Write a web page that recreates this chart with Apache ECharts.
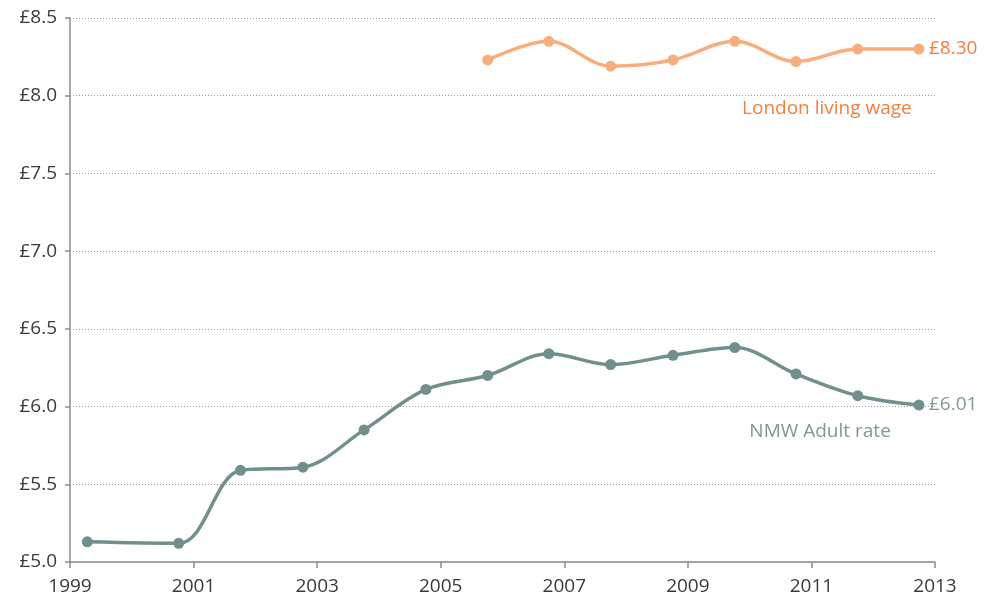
<!DOCTYPE html>
<html>
<head>
<meta charset="utf-8">
<script src="https://cdn.jsdelivr.net/npm/echarts@6/dist/echarts.min.js"></script>
<style>
  html, body { margin: 0; padding: 0; background: #fff; }
  #chart { width: 989px; height: 603px; }
</style>
</head>
<body>
<div id="chart"></div>
<script>
const nmwYears = [1999.28, 2000.76, 2001.76, 2002.77, 2003.76, 2004.76, 2005.76, 2006.75, 2007.75, 2008.76, 2009.76, 2010.75, 2011.75, 2012.74]
const nmwValues = [5.13, 5.12, 5.59, 5.61, 5.85, 6.11, 6.20, 6.34, 6.27, 6.33, 6.38, 6.21, 6.07, 6.01]

const llwYears = [2005.76, 2006.75, 2007.75, 2008.76, 2009.76, 2010.75, 2011.75, 2012.74]
const llwValues = [8.23, 8.35, 8.19, 8.23, 8.35, 8.22, 8.30, 8.30]

const NMW_LINE = '#71908d'
const NMW_TEXT = '#7c9a97'
const LLW_LINE = '#f8ad7c'
const LLW_TEXT = '#f0803c'
const FONT = '"Open Sans", sans-serif'

const pairs = (xs, ys) => xs.map((x, i) => [x, ys[i]])

const chart = echarts.init(document.getElementById('chart'))

chart.setOption({
  animation: false,
  grid: { left: 70, right: 54, top: 18, bottom: 41 },
  xAxis: {
    type: 'value',
    min: 1999,
    max: 2013,
    interval: 2,
    axisLine: { show: true, lineStyle: { color: '#8c8c8c', width: 1.5 } },
    axisTick: { show: true, inside: false, length: 6, lineStyle: { color: '#8c8c8c', width: 1.5 } },
    axisLabel: { color: '#3a3a3a', fontSize: 19, fontFamily: FONT, margin: 15, formatter: (v) => String(v) },
    splitLine: { show: false },
  },
  yAxis: {
    type: 'value',
    min: 5,
    max: 8.5,
    interval: 0.5,
    axisLine: { show: true, lineStyle: { color: '#8c8c8c', width: 1.5 } },
    axisTick: { show: true, inside: false, length: 5, lineStyle: { color: '#8c8c8c', width: 1.5 } },
    axisLabel: { color: '#3a3a3a', fontSize: 19, fontFamily: FONT, margin: 13, formatter: (v) => '£' + v.toFixed(1) },
    splitLine: { show: true, lineStyle: { color: '#9a9a9a', type: [1, 2], width: 1 } },
  },
  series: [
    {
      name: 'NMW Adult rate',
      type: 'line',
      data: pairs(nmwYears, nmwValues),
      smooth: 0.35,
      symbol: 'circle',
      symbolSize: 11,
      lineStyle: { color: NMW_LINE, width: 3.5 },
      itemStyle: { color: NMW_LINE },
      endLabel: {
        show: true,
        formatter: '£6.01',
        color: NMW_TEXT,
        fontSize: 19,
        fontFamily: FONT,
        distance: 10,
      },
      markPoint: {
        symbol: 'circle',
        symbolSize: 0,
        data: [{ coord: [2011.14, 5.84], value: 'NMW Adult rate' }],
        label: { show: true, position: 'inside', formatter: 'NMW Adult rate', color: NMW_TEXT, fontSize: 19, fontFamily: FONT },
      },
    },
    {
      name: 'London living wage',
      type: 'line',
      data: pairs(llwYears, llwValues),
      smooth: 0.35,
      symbol: 'circle',
      symbolSize: 11,
      lineStyle: { color: LLW_LINE, width: 3.5 },
      itemStyle: { color: LLW_LINE },
      endLabel: {
        show: true,
        formatter: '£8.30',
        color: LLW_TEXT,
        fontSize: 19,
        fontFamily: FONT,
        distance: 10,
      },
      markPoint: {
        symbol: 'circle',
        symbolSize: 0,
        data: [{ coord: [2011.25, 7.92], value: 'London living wage' }],
        label: { show: true, position: 'inside', formatter: 'London living wage', color: LLW_TEXT, fontSize: 19, fontFamily: FONT },
      },
    },
  ],
})
</script>
</body>
</html>
